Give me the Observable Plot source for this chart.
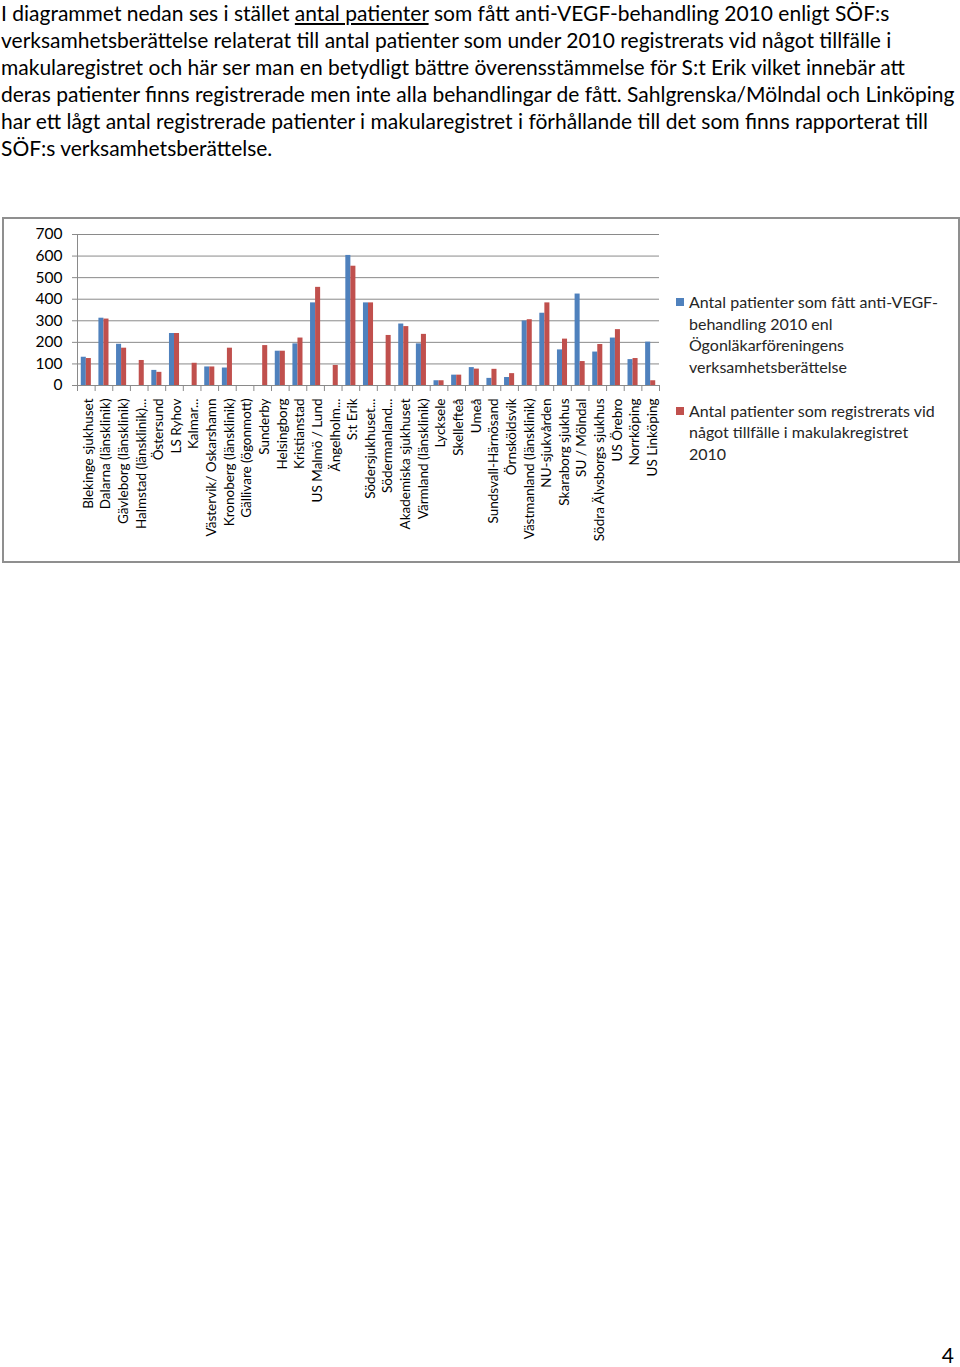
<!DOCTYPE html>
<html>
<head>
<meta charset="utf-8">
<script src="https://cdn.jsdelivr.net/npm/d3@7"></script>
<script src="https://cdn.jsdelivr.net/npm/@observablehq/plot@0.6"></script>
<style>
  html, body { margin: 0; padding: 0; background: #fff; }
  body { width: 960px; height: 1367px; position: relative; overflow: hidden; font-family: Lato, "Open Sans", sans-serif; color: #000; }
  #para { position: absolute; left: 1px; top: -1px; font-size: 21px; line-height: 27px; white-space: nowrap; }
  #para div { white-space: nowrap; }
  #box { position: absolute; left: 2px; top: 217px; width: 958px; height: 346px; box-sizing: border-box; border: 2px solid #8f8f8f; }
  #chart { position: absolute; left: 0; top: 217px; }
  #legend { position: absolute; left: 676px; top: 291px; font-size: 16px; line-height: 21.7px; color: #262626; white-space: nowrap; }
  .item { position: relative; padding-left: 13px; }
  .sw { position: absolute; left: 0; top: 7px; width: 8px; height: 8px; }
  .gap { height: 21.7px; }
  #page { position: absolute; right: 6px; top: 1342px; font-size: 21px; }
</style>
</head>
<body>
<div id="para">
  <div>I diagrammet nedan ses i stället <u>antal patienter</u> som fått anti-VEGF-behandling 2010 enligt SÖF:s</div>
  <div>verksamhetsberättelse relaterat till antal patienter som under 2010 registrerats vid något tillfälle i</div>
  <div>makularegistret och här ser man en betydligt bättre överensstämmelse för S:t Erik vilket innebär att</div>
  <div>deras patienter finns registrerade men inte alla behandlingar de fått. Sahlgrenska/Mölndal och Linköping</div>
  <div>har ett lågt antal registrerade patienter i makularegistret i förhållande till det som finns rapporterat till</div>
  <div>SÖF:s verksamhetsberättelse.</div>
</div>
<div id="box"></div>
<div id="chart"></div>
<div id="legend"></div>
<div id="page">4</div>
<script>
const categories = [
  "Blekinge sjukhuset", "Dalarna (länsklinik)", "Gävleborg (länsklinik)", "Halmstad (länsklinik)...",
  "Östersund", "LS Ryhov", "Kalmar...", "Västervik/ Oskarshamn", "Kronoberg (länsklinik)",
  "Gällivare (ögonmott)", "Sunderby", "Helsingborg", "Kristianstad", "US Malmö / Lund",
  "Ängelholm...", "S:t Erik", "Södersjukhuset...", "Södermanland...", "Akademiska sjukhuset",
  "Värmland (länsklinik)", "Lycksele", "Skellefteå", "Umeå", "Sundsvall-Härnösand",
  "Örnsköldsvik", "Västmanland (länsklinik)", "NU-sjukvården", "Skaraborg sjukhus",
  "SU / Mölndal", "Södra Älvsborgs sjukhus", "US Örebro", "Norrköping", "US Linköping"
];
const treated = [131, 312, 191, null, 70, 241, null, 86, 81,
  null, null, 159, 193, 383, null, 603, 383, null, 285,
  193, 22, 48, 83, 33, 37, 299, 335, 165, 424, 155, 220, 120, 201];
const registered = [125, 308, 173, 116, 61, 241, 103, 86, 173,
  null, 185, 159, 220, 455, 93, 553, 383, 232, 273,
  237, 22, 48, 76, 75, 55, 305, 383, 215, 111, 190, 259, 125, 22];
const yTicks = [0, 100, 200, 300, 400, 500, 600, 700];
const seriesNames = [
  ["Antal patienter som fått anti-VEGF-", "behandling 2010 enl", "Ögonläkarföreningens", "verksamhetsberättelse"],
  ["Antal patienter som registrerats vid", "något tillfälle i makulakregistret", "2010"]
];
const colors = ["#4F81BD", "#C0504D"];

const W = 670, H = 346, mL = 77, mR = 11, mT = 17, mB = 178;
const bw = (W - mL - mR) / categories.length;
const inOuter = bw * 1.5 / 7, inInner = bw * 3.5 / 7;

const blueData = categories.map((c, i) => ({cat: c, v: treated[i]})).filter(d => d.v != null);
const redData = categories.map((c, i) => ({cat: c, v: registered[i]})).filter(d => d.v != null);

const plot = Plot.plot({
  width: W, height: H,
  marginLeft: mL, marginRight: mR, marginTop: mT, marginBottom: mB,
  style: {fontFamily: "Lato, sans-serif", color: "#000", background: "transparent"},
  x: {type: "band", domain: categories, padding: 0, round: false},
  y: {domain: [0, 700]},
  marks: [
    Plot.gridY(yTicks, {stroke: "#8a8a8a", strokeOpacity: 1, strokeWidth: 1}),
    Plot.axisY(yTicks, {tickSize: 5, tickPadding: 10, fontSize: 15.5, stroke: "#8a8a8a", label: null}),
    Plot.frame({anchor: "left", stroke: "#8a8a8a"}),
    Plot.barY(blueData, {x: "cat", y: "v", fill: colors[0], insetLeft: inOuter, insetRight: inInner}),
    Plot.barY(redData, {x: "cat", y: "v", fill: colors[1], insetLeft: inInner, insetRight: inOuter}),
    Plot.ruleY([0], {stroke: "#8a8a8a"}),
    Plot.axisX(categories, {tickSize: 6, tickFormat: () => "", dx: -bw / 2, stroke: "#8a8a8a", label: null}),
    Plot.axisX([categories[categories.length - 1]], {tickSize: 6, tickFormat: () => "", dx: bw / 2, stroke: "#8a8a8a", label: null}),
    Plot.axisX(categories, {tickSize: 0, tickPadding: 13, tickRotate: -90, fontSize: 13.5, dx: 2, label: null, textOverflow: null})
  ]
});
document.getElementById("chart").appendChild(plot);

const legend = document.getElementById("legend");
seriesNames.forEach((lines, i) => {
  if (i > 0) { const g = document.createElement("div"); g.className = "gap"; legend.appendChild(g); }
  const item = document.createElement("div");
  item.className = "item";
  const sw = document.createElement("span");
  sw.className = "sw";
  sw.style.background = colors[i];
  item.appendChild(sw);
  lines.forEach(t => { const d = document.createElement("div"); d.textContent = t; item.appendChild(d); });
  legend.appendChild(item);
});
</script>
</body>
</html>
